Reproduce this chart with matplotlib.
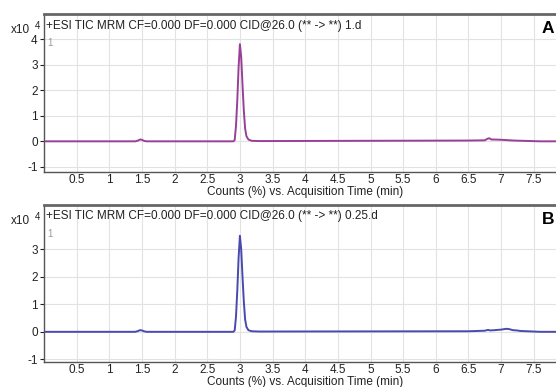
import matplotlib
matplotlib.use("Agg")
import matplotlib.pyplot as plt

plt.rcParams['font.family'] = ['Liberation Sans', 'DejaVu Sans']

# Data (counts x10^4 vs acquisition time, min)
time_a = [0.0, 1.40, 1.44, 1.47, 1.50, 1.53, 1.57, 2.90, 2.92, 2.94, 2.96, 2.98, 3.00,
          3.02, 3.04, 3.06, 3.08, 3.10, 3.13, 3.18, 3.30, 6.50, 6.75, 6.79, 6.82, 6.85,
          6.90, 7.00, 7.20, 7.60, 8.30]
counts_a = [0.0, 0.0, 0.03, 0.07, 0.06, 0.02, 0.0, 0.0, 0.05, 0.6, 1.6, 2.9, 3.8,
            3.3, 2.2, 1.2, 0.5, 0.2, 0.07, 0.02, 0.01, 0.03, 0.04, 0.1, 0.12, 0.07,
            0.07, 0.06, 0.03, 0.0, 0.0]

time_b = [0.0, 1.40, 1.44, 1.47, 1.50, 1.53, 1.57, 2.90, 2.92, 2.94, 2.96, 2.98, 3.00,
          3.02, 3.04, 3.06, 3.08, 3.10, 3.13, 3.18, 3.30, 6.50, 6.75, 6.80, 6.83, 6.90,
          7.00, 7.08, 7.12, 7.18, 7.24, 7.30, 7.60, 8.30]
counts_b = [0.0, 0.0, 0.03, 0.06, 0.05, 0.02, 0.0, 0.0, 0.05, 0.55, 1.5, 2.7, 3.5,
            3.0, 2.0, 1.1, 0.45, 0.18, 0.06, 0.02, 0.01, 0.02, 0.04, 0.07, 0.05, 0.06,
            0.08, 0.11, 0.1, 0.06, 0.05, 0.03, 0.0, 0.0]

xticks = [0.5, 1, 1.5, 2, 2.5, 3, 3.5, 4, 4.5, 5, 5.5, 6, 6.5, 7, 7.5]
xtick_labels = ['0.5', '1', '1.5', '2', '2.5', '3', '3.5', '4', '4.5', '5', '5.5',
                '6', '6.5', '7', '7.5']
header_a = "+ESI TIC MRM CF=0.000 DF=0.000 CID@26.0 (** -> **) 1.d"
header_b = "+ESI TIC MRM CF=0.000 DF=0.000 CID@26.0 (** -> **) 0.25.d"
xlabel = "Counts (%) vs. Acquisition Time (min)"

W, H = 556, 387
fig = plt.figure(figsize=(W / 100, H / 100), dpi=100)
FS = 8.5

def make_panel(rect, t, c, color, ylim, yticks, header, letter):
    ax = fig.add_axes(rect)
    ax.plot(t, c, color=color, lw=1.4)
    ax.set_xlim(0.0, 8.3)
    ax.set_ylim(*ylim)
    ax.set_xticks(xticks)
    ax.set_xticklabels(xtick_labels)
    ax.set_yticks(yticks)
    ax.set_yticklabels([str(v) for v in yticks])
    ax.grid(True, color='#e2e2e2', lw=0.8)
    ax.set_axisbelow(True)
    ax.tick_params(axis='both', labelsize=FS, colors='#222222', pad=1.5)
    ax.tick_params(axis='x', length=0)
    ax.tick_params(axis='y', length=3, width=0.8, direction='out')
    for s in ['left', 'bottom']:
        ax.spines[s].set_color('#555555')
        ax.spines[s].set_linewidth(1.0)
    ax.spines['top'].set_color('#666666')
    ax.spines['top'].set_linewidth(2.0)
    ax.spines['right'].set_visible(False)
    ax.text(0.004, 0.965, header, transform=ax.transAxes, ha='left', va='top',
            fontsize=FS, color='#222222')
    ax.text(0.006, 0.85, '1', transform=ax.transAxes, ha='left', va='top',
            fontsize=7, color='#999999')
    ax.set_xlabel(xlabel, fontsize=FS, color='#222222', labelpad=-1)
    ax.xaxis.set_label_coords((305 - rect[0] * W) / (rect[2] * W), -0.09)
    ax.text((548 - rect[0] * W) / (rect[2] * W), 0.955, letter, transform=ax.transAxes,
            ha='center', va='top', fontsize=12.5, fontweight='bold', color='black')
    return ax

ax1 = make_panel([44 / W, (H - 172) / H, 542 / W, 158 / H], time_a, counts_a,
                 '#9a3f98', (-1.2, 4.98), [-1, 0, 1, 2, 3, 4], header_a, 'A')
ax2 = make_panel([44 / W, (H - 362) / H, 542 / W, 157 / H], time_b, counts_b,
                 '#4a49b0', (-1.1, 4.62), [-1, 0, 1, 2, 3], header_b, 'B')

for y in [30, 221]:
    fig.text(11 / W, 1 - y / H, 'x10', fontsize=FS, ha='left', va='center', color='#222222')
    fig.text(35 / W, 1 - (y - 4) / H, '4', fontsize=7, ha='left', va='center', color='#222222')

fig.savefig('out.png', dpi=100)
